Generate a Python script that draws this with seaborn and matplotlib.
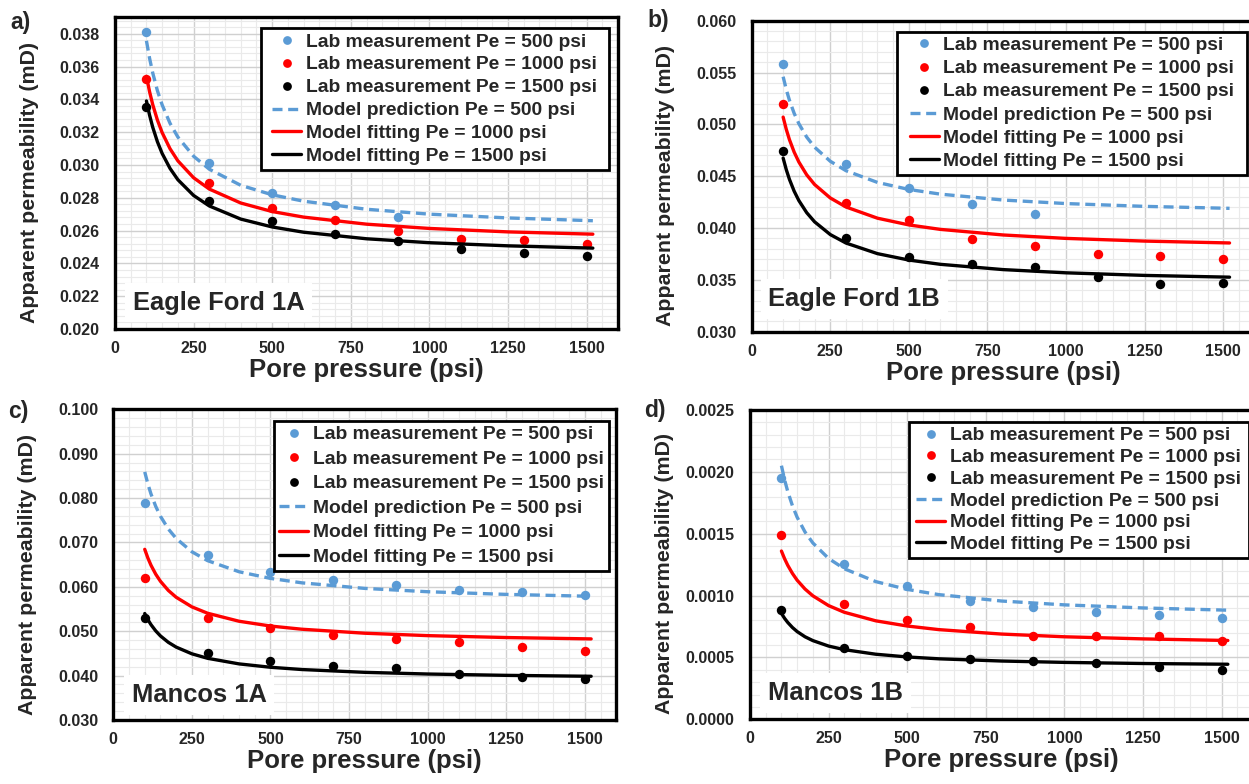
import matplotlib
matplotlib.use("Agg")
import matplotlib.pyplot as plt
from matplotlib.lines import Line2D
from matplotlib.patches import Rectangle
from matplotlib.ticker import MultipleLocator, FormatStrFormatter
import seaborn as sns

sns.set_style("white")
plt.rcParams["font.family"] = ["Liberation Sans", "DejaVu Sans"]
plt.rcParams["font.weight"] = "bold"
plt.rcParams["axes.labelweight"] = "bold"

# Pore pressure of the lab measurements (psi)
pressure_lab = [100, 300, 500, 700, 900, 1100, 1300, 1500]
# Pore pressure at which the model curves are tabulated (psi)
pressure_model = [100, 110, 120, 135, 150, 175, 200, 250, 300, 400, 500,
                  600, 800, 1000, 1250, 1520]

# Eagle Ford 1A
ef1a_lab_500 = [0.0381, 0.03014, 0.0283, 0.02755, 0.02681]
ef1a_lab_1000 = [0.03523, 0.02893, 0.02737, 0.02667, 0.02596, 0.02547, 0.02543, 0.02521]
ef1a_lab_1500 = [0.03355, 0.0278, 0.02657, 0.02582, 0.02535, 0.0249, 0.02462, 0.02443]
ef1a_model_500 = [0.03757, 0.03650, 0.03561, 0.03452, 0.03366, 0.03254, 0.03170, 0.03053,
                  0.02974, 0.02876, 0.02818, 0.02779, 0.02730, 0.02700, 0.02677, 0.02660]
ef1a_model_1000 = [0.0354, 0.03446, 0.03368, 0.03273, 0.03197, 0.03099, 0.03025, 0.02922,
                   0.02853, 0.02768, 0.02716, 0.02682, 0.02639, 0.02613, 0.02592, 0.02578]
ef1a_model_1500 = [0.0339, 0.03303, 0.0323, 0.03141, 0.0307, 0.02979, 0.0291, 0.02814,
                   0.0275, 0.0267, 0.02622, 0.0259, 0.0255, 0.02526, 0.02507, 0.02493]

# Eagle Ford 1B
ef1b_lab_500 = [0.0558, 0.04619, 0.04384, 0.04235, 0.04132]
ef1b_lab_1000 = [0.05193, 0.04245, 0.0408, 0.03897, 0.03822, 0.03752, 0.03726, 0.0370]
ef1b_lab_1500 = [0.04742, 0.03903, 0.03716, 0.03655, 0.03622, 0.03526, 0.03461, 0.03474]
ef1b_model_500 = [0.0546, 0.05336, 0.05233, 0.05107, 0.05007, 0.04877, 0.0478, 0.04644,
                  0.04553, 0.0444, 0.04372, 0.04327, 0.0427, 0.04236, 0.04209, 0.0419]
ef1b_model_1000 = [0.0507, 0.04952, 0.04853, 0.04733, 0.04637, 0.04513, 0.0442, 0.0429,
                   0.04203, 0.04095, 0.0403, 0.03987, 0.03933, 0.039, 0.03874, 0.03856]
ef1b_model_1500 = [0.04675, 0.04563, 0.0447, 0.04356, 0.04265, 0.04148, 0.0406, 0.03937,
                   0.03855, 0.03753, 0.03691, 0.0365, 0.03599, 0.03568, 0.03543, 0.03526]

# Mancos 1A
m1a_lab_500 = [0.07887, 0.06722, 0.06338, 0.0615, 0.06045, 0.05932, 0.05895, 0.05805]
m1a_lab_1000 = [0.06195, 0.05308, 0.05075, 0.04925, 0.04835, 0.04752, 0.0464, 0.04565]
m1a_lab_1500 = [0.0530, 0.04511, 0.04323, 0.0421, 0.04165, 0.04037, 0.03962, 0.03917]
m1a_model_500 = [0.0859, 0.08317, 0.0809, 0.07812, 0.0759, 0.07304, 0.0709, 0.0679,
                 0.0659, 0.0634, 0.0619, 0.0609, 0.05965, 0.0589, 0.0583, 0.05787]
m1a_model_1000 = [0.06845, 0.06649, 0.06485, 0.06285, 0.06125, 0.05919, 0.05765, 0.05549,
                  0.05405, 0.05225, 0.05117, 0.05045, 0.04955, 0.04901, 0.04858, 0.04827]
m1a_model_1500 = [0.05399, 0.05261, 0.05147, 0.05007, 0.04894, 0.0475, 0.04642, 0.04491,
                  0.0439, 0.04264, 0.04188, 0.04137, 0.04074, 0.04036, 0.04006, 0.03985]

# Mancos 1B
m1b_lab_500 = [0.001951, 0.001252, 0.001081, 0.00096, 0.000908, 0.000865, 0.000843, 0.000815]
m1b_lab_1000 = [0.001487, 0.000933, 0.000801, 0.000744, 0.000676, 0.000671, 0.000671, 0.00063]
m1b_lab_1500 = [0.000881, 0.000576, 0.000508, 0.000491, 0.000473, 0.000454, 0.000419, 0.000395]
m1b_model_500 = [0.00205, 0.001936, 0.001842, 0.001726, 0.001633, 0.001514, 0.001425, 0.0013,
                 0.001217, 0.001113, 0.00105, 0.001008, 0.000956, 0.000925, 0.0009, 0.000882]
m1b_model_1000 = [0.00136, 0.001298, 0.001245, 0.001179, 0.001124, 0.001053, 0.000998, 0.000919,
                  0.000865, 0.000796, 0.000754, 0.000725, 0.000689, 0.000667, 0.00065, 0.000637]
m1b_model_1500 = [0.000856, 0.000816, 0.000783, 0.000742, 0.000709, 0.000667, 0.000636, 0.000592,
                  0.000563, 0.000526, 0.000504, 0.000489, 0.000471, 0.00046, 0.000451, 0.000445]

series_labels = ["Lab measurement Pe = 500 psi", "Lab measurement Pe = 1000 psi",
                 "Lab measurement Pe = 1500 psi", "Model prediction Pe = 500 psi",
                 "Model fitting Pe = 1000 psi", "Model fitting Pe = 1500 psi"]

BLUE, RED, BLACK = "#5b9bd5", "#ff0000", "#000000"
DASH = [3.0, 1.7]
AX_W = 503          # axes width in pixels

W, H = 1249, 784
fig = plt.figure(figsize=(W / 100, H / 100), dpi=100)


def rect(left, top, bottom, width=AX_W):
    return [left / W, 1 - bottom / H, width / W, (bottom - top) / H]


panels = [
    dict(rect=rect(115, 17.3, 329), letter="a)", letter_xy=(10, 23), name="Eagle Ford 1A",
         name_xy=(0.035, 0.085), ylim=(0.020, 0.039), ystep=0.002, fmt="%.3f",
         lab=(ef1a_lab_500, ef1a_lab_1000, ef1a_lab_1500),
         model=(ef1a_model_500, ef1a_model_1000, ef1a_model_1500),
         legend_xy=(0.982, 0.965), spacing=0.28, xpad=7),
    dict(rect=rect(751.7, 20.7, 331.7), letter="b)", letter_xy=(647, 21), name="Eagle Ford 1B",
         name_xy=(0.033, 0.105), ylim=(0.030, 0.060), ystep=0.005, fmt="%.3f",
         lab=(ef1b_lab_500, ef1b_lab_1000, ef1b_lab_1500),
         model=(ef1b_model_500, ef1b_model_1000, ef1b_model_1500),
         legend_xy=(0.985, 0.964), spacing=0.29, xpad=8),
    dict(rect=rect(113.3, 409.3, 720), letter="c)", letter_xy=(8, 411), name="Mancos 1A",
         name_xy=(0.037, 0.08), ylim=(0.030, 0.100), ystep=0.010, fmt="%.3f",
         lab=(m1a_lab_500, m1a_lab_1000, m1a_lab_1500),
         model=(m1a_model_500, m1a_model_1000, m1a_model_1500),
         legend_xy=(0.985, 0.962), spacing=0.36, xpad=0),
    dict(rect=rect(750, 410, 719.3), letter="d)", letter_xy=(644, 410), name="Mancos 1B",
         name_xy=(0.036, 0.085), ylim=(0.0, 0.0025), ystep=0.0005, fmt="%.4f",
         lab=(m1b_lab_500, m1b_lab_1000, m1b_lab_1500),
         model=(m1b_model_500, m1b_model_1000, m1b_model_1500),
         legend_xy=(0.992, 0.961), spacing=0.22, xpad=3),
]

colors = [BLUE, RED, BLACK]
legends = []

for p in panels:
    ax = fig.add_axes(p["rect"])

    # lab measurements
    for vals, c in zip(p["lab"], colors):
        sns.scatterplot(x=pressure_lab[:len(vals)], y=vals, color=c, s=46,
                        linewidth=0, ax=ax, zorder=3)
    # model curves
    for i, (vals, c) in enumerate(zip(p["model"], colors)):
        sns.lineplot(x=pressure_model, y=vals, color=c, linewidth=2.4, ax=ax, zorder=4)
        if i == 0:
            ax.get_lines()[-1].set_dashes(DASH)

    ax.set_xlim(0, 1600)
    ax.set_ylim(*p["ylim"])
    ax.xaxis.set_major_locator(MultipleLocator(250))
    ax.xaxis.set_minor_locator(MultipleLocator(50))
    ax.yaxis.set_major_locator(MultipleLocator(p["ystep"]))
    ax.yaxis.set_minor_locator(MultipleLocator(p["ystep"] / 5))
    ax.yaxis.set_major_formatter(FormatStrFormatter(p["fmt"]))

    ax.set_axisbelow(True)
    ax.grid(True, which="major", color="#d0d0d0", linewidth=1.0)
    ax.grid(True, which="minor", color="#eaeaea", linewidth=0.8)
    ax.tick_params(which="both", length=0)
    ax.tick_params(axis="x", labelsize=11.5, pad=8.5)
    ax.tick_params(axis="y", labelsize=11.5, pad=11)
    for lab in ax.get_xticklabels() + ax.get_yticklabels():
        lab.set_fontweight("bold")

    for sp in ax.spines.values():
        sp.set_visible(True)
        sp.set_color("black")
        sp.set_linewidth(2.4)

    ax.set_xlabel("Pore pressure (psi)", fontsize=18.5, fontweight="bold")
    ax.set_ylabel("Apparent permeability (mD)", fontsize=15.4, fontweight="bold")
    ax.xaxis.set_label_coords(0.5, -0.094)
    ax.yaxis.set_label_coords(-0.152, 0.47)

    ax.text(p["name_xy"][0], p["name_xy"][1], p["name"], transform=ax.transAxes,
            fontsize=18.4, fontweight="bold", ha="left", va="center", zorder=2,
            bbox=dict(boxstyle="square,pad=0.3", fc="white", ec="none"))

    handles = [Line2D([0], [0], marker="o", linestyle="none", markersize=6.3,
                      markerfacecolor=c, markeredgewidth=0) for c in colors]
    handles += [Line2D([0], [0], color=BLUE, linewidth=2.4, dashes=DASH),
                Line2D([0], [0], color=RED, linewidth=2.4),
                Line2D([0], [0], color=BLACK, linewidth=2.4)]
    lx, ly = p["legend_xy"]
    leg = ax.legend(handles, series_labels, loc="upper right",
                    bbox_to_anchor=(lx - p["xpad"] / AX_W, ly), borderaxespad=0,
                    prop={"size": 13.9, "weight": "bold"}, frameon=False,
                    borderpad=0.25, labelspacing=p["spacing"],
                    handlelength=1.5, handletextpad=0.25)
    leg.set_zorder(6)
    legends.append((ax, leg, p["xpad"]))

    fig.text(p["letter_xy"][0] / W, 1 - p["letter_xy"][1] / H, p["letter"],
             fontsize=16.5, fontweight="bold", ha="left", va="center")

# Legend frames: a white box with a black border, a little wider than the entries
fig.canvas.draw()
to_fig = fig.transFigure.inverted()
for ax, leg, xpad in legends:
    bb = leg.get_window_extent()
    (x0, y0) = to_fig.transform((bb.x0 - xpad, bb.y0))
    (x1, y1) = to_fig.transform((bb.x1 + xpad, bb.y1))
    ax.add_patch(Rectangle((x0, y0), x1 - x0, y1 - y0, transform=fig.transFigure,
                           facecolor="white", edgecolor="black", linewidth=2.0,
                           zorder=5.5, clip_on=False))

fig.savefig("out.png", dpi=100, facecolor="white")
